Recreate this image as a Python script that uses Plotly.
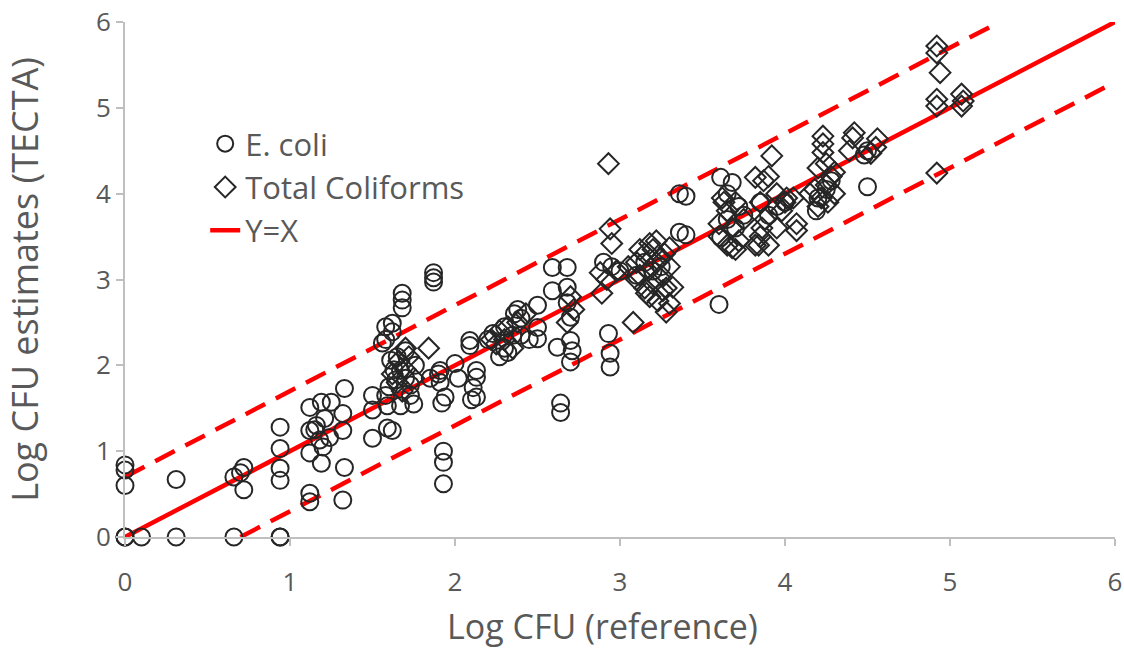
import plotly.graph_objects as go

# ---- data ----
ecoli_x = [0, 0, 0, 0, 0, 0.1, 0.31, 0.31, 0.66, 0.66, 0.7, 0.72, 0.72,
           0.94, 0.94, 0.94, 0.94, 0.94, 0.94,
           1.12, 1.12, 1.12, 1.12, 1.12, 1.19, 1.21, 1.18, 1.2, 1.19, 1.25, 1.24, 1.15, 1.16,
           1.33, 1.32, 1.32, 1.33, 1.32, 1.5, 1.5, 1.5, 1.59, 1.59, 1.62,
           1.58, 1.58, 1.62, 1.62, 1.68, 1.68, 1.68,
           1.56, 1.61, 1.67, 1.64, 1.73, 1.58, 1.67, 1.73, 1.7, 1.76, 1.6, 1.65, 1.7, 1.63, 1.75,
           1.87, 1.87, 1.87, 1.91, 1.91, 1.94, 1.92, 1.85, 1.9, 1.93, 1.93, 1.93,
           2.0, 2.02, 2.09, 2.09, 2.13, 2.13, 2.11, 2.13, 2.1,
           2.23, 2.2, 2.3, 2.35, 2.3, 2.27, 2.32, 2.4, 2.36, 2.38, 2.4, 2.45,
           2.5, 2.5, 2.5, 2.59, 2.68, 2.59, 2.68, 2.68, 2.7, 2.7, 2.62, 2.71, 2.7,
           2.64, 2.64, 2.93, 2.94, 2.94,
           2.9, 2.95, 3.0, 3.1, 3.15, 3.2, 3.25,
           3.36, 3.4, 3.36, 3.4, 3.6,
           3.61, 3.68, 3.65, 3.61, 3.65, 3.7, 3.72, 3.75,
           3.85, 3.9, 3.95, 4.0, 4.19, 4.2, 4.25, 4.28, 4.5, 4.5, 4.48]
ecoli_y = [0, 0, 0.84, 0.78, 0.6, 0, 0, 0.67, 0, 0.7, 0.75, 0.81, 0.55,
           0, 0, 1.28, 1.03, 0.8, 0.66,
           1.51, 1.24, 0.98, 0.51, 0.41, 1.57, 1.38, 1.13, 1.05, 0.86, 1.57, 1.16, 1.25, 1.3,
           1.73, 1.44, 1.24, 0.81, 0.43, 1.65, 1.48, 1.15, 1.53, 1.27, 1.24,
           2.45, 2.3, 2.49, 2.39, 2.84, 2.76, 2.67,
           2.26, 2.06, 1.94, 1.83, 1.77, 1.65, 1.53, 1.65, 2.17, 2.0, 1.75, 2.1, 1.85, 1.95, 1.55,
           3.08, 3.02, 2.97, 1.94, 1.8, 1.63, 1.56, 1.85, 1.9, 1.0, 0.87, 0.62,
           2.02, 1.85, 2.29, 2.23, 1.94, 1.86, 1.74, 1.63, 1.6,
           2.37, 2.3, 2.45, 2.35, 2.2, 2.1, 2.15, 2.55, 2.6, 2.65, 2.35, 2.3,
           2.7, 2.44, 2.31, 3.14, 3.14, 2.87, 2.91, 2.73, 2.56, 2.29, 2.21, 2.17, 2.04,
           1.56, 1.45, 2.37, 2.14, 1.98,
           3.2, 3.15, 3.1, 3.05, 3.2, 3.1, 3.15,
           4.0, 3.97, 3.55, 3.52, 2.71,
           4.19, 4.13, 4.0, 3.49, 3.7, 3.6, 3.85, 3.75,
           3.9, 3.75, 3.85, 3.9, 3.8, 3.95, 4.05, 4.15, 4.08, 4.5, 4.45]

tc_x = [1.65, 1.7, 1.72, 1.68, 1.75, 1.62, 1.7, 1.66, 1.84,
        2.22, 2.27, 2.32, 2.38, 2.3, 2.35, 2.43, 2.25,
        2.7, 2.72, 2.68,
        2.93, 2.94, 2.95, 2.88, 2.89, 2.92, 2.98, 3.08,
        3.05, 3.1, 3.12, 3.15, 3.17, 3.2, 3.2, 3.22, 3.25, 3.27, 3.15, 3.1, 3.18, 3.23,
        3.28, 3.3, 3.12, 3.25, 3.28, 3.3, 3.22, 3.18, 3.3, 3.16, 3.26, 3.32,
        3.6, 3.62, 3.65, 3.65, 3.68, 3.7, 3.72, 3.75, 3.7, 3.6, 3.63, 3.68,
        3.82, 3.85, 3.85, 3.88, 3.9, 3.92, 3.95, 3.95, 3.9, 3.98, 3.82, 3.87, 4.0, 3.86, 3.84,
        4.07, 4.07, 4.05, 4.01,
        4.23, 4.23, 4.23, 4.2, 4.25, 4.28, 4.3, 4.22, 4.18, 4.26, 4.3, 4.2, 4.15, 4.25,
        4.42, 4.41, 4.39, 4.56, 4.55, 4.52,
        4.92, 4.92, 4.94, 4.92, 4.92, 4.92, 5.07, 5.08, 5.07]
tc_y = [1.8, 1.95, 2.1, 1.7, 1.85, 1.9, 2.2, 2.05, 2.2,
        2.3, 2.4, 2.45, 2.5, 2.3, 2.2, 2.6, 2.25,
        2.8, 2.65, 2.5,
        4.35, 3.59, 3.42, 3.08, 2.84, 3.0, 3.1, 2.5,
        3.15, 3.2, 3.05, 3.3, 3.1, 3.35, 2.95, 3.2, 3.05, 3.3, 2.9, 3.0, 2.8, 2.75,
        2.9, 3.15, 3.35, 3.25, 2.62, 2.72, 3.45, 3.42, 3.37, 2.84, 2.87, 2.91,
        3.5, 3.95, 3.8, 3.4, 3.6, 3.9, 3.45, 3.7, 3.35, 3.65, 3.9, 3.37,
        4.19, 3.9, 3.5, 3.7, 4.2, 4.44, 4.0, 3.6, 3.4, 3.8, 3.4, 4.15, 3.9, 3.6, 3.4,
        3.65, 3.57, 3.95, 3.95,
        4.67, 4.58, 4.48, 4.3, 4.1, 4.2, 4.0, 3.95, 4.05, 3.9, 4.25, 3.85, 4.0, 4.35,
        4.71, 4.65, 4.5, 4.64, 4.54, 4.47,
        5.72, 5.64, 5.41, 5.1, 5.02, 4.24, 5.16, 5.08, 5.02]

ref_x = [0, 6]
band = 0.7
upper_x = [0, 6 - band]
lower_x = [band, 6]

FONT = "'Open Sans', Lato, sans-serif"
GRAY = "#595959"
MK = "#262626"
RED = "#ff0000"

fig = go.Figure()
fig.add_trace(go.Scatter(x=upper_x, y=[v + band for v in upper_x], mode="lines",
                         line=dict(color=RED, width=4.5, dash="22px,12px"),
                         showlegend=False, hoverinfo="skip", cliponaxis=False))
fig.add_trace(go.Scatter(x=lower_x, y=[v - band for v in lower_x], mode="lines",
                         line=dict(color=RED, width=4.5, dash="22px,12px"),
                         showlegend=False, hoverinfo="skip", cliponaxis=False))
fig.add_trace(go.Scatter(x=ref_x, y=ref_x, mode="lines", name="Y=X",
                         line=dict(color=RED, width=4.5), legendgroup="c",
                         legendrank=3, cliponaxis=False))
fig.add_trace(go.Scatter(x=ecoli_x, y=ecoli_y, mode="markers", name="E. coli",
                         marker=dict(symbol="circle-open", size=17, color=MK,
                                     line=dict(width=2, color=MK)),
                         legendgroup="a", legendrank=1, cliponaxis=False))
fig.add_trace(go.Scatter(x=tc_x, y=tc_y, mode="markers", name="Total Coliforms",
                         marker=dict(symbol="diamond-open", size=16, color=MK,
                                     line=dict(width=2, color=MK)),
                         legendgroup="b", legendrank=2, cliponaxis=False))

axis_common = dict(range=[0, 6], dtick=1, tick0=0, showgrid=False, zeroline=False,
                   showline=True, linecolor="#bfbfbf", linewidth=2, automargin=False,
                   ticks="outside", tickcolor="#bfbfbf", tickwidth=2, ticklen=7,
                   ticklabeloverflow="allow",
                   tickfont=dict(family=FONT, size=26, color=GRAY))

fig.update_layout(
    width=1124, height=650,
    margin=dict(l=125, r=9, t=22, b=113),
    plot_bgcolor="white", paper_bgcolor="white",
    font=dict(family=FONT, color=GRAY),
    xaxis=dict(**axis_common, ticklabelstandoff=14),
    yaxis=dict(**axis_common, ticklabelstandoff=0,
               title=dict(text="Log CFU estimates (TECTA)", font=dict(family=FONT, size=36, color=GRAY),
                          standoff=50)),
    legend=dict(x=0.081, y=0.8155, xanchor="left", yanchor="top",
                font=dict(family=FONT, size=31, color=GRAY),
                bgcolor="rgba(0,0,0,0)", traceorder="grouped", tracegroupgap=0),
    annotations=[dict(text="Log CFU (reference)", xref="paper", yref="paper",
                      x=0.482, y=-0.1728, xanchor="center", yanchor="middle",
                      showarrow=False, font=dict(family=FONT, size=34, color=GRAY))],
    showlegend=True,
)

# remove the browser's default 8px body margin so the figure fills the window exactly
fig.write_html("out.html", config={"displayModeBar": False},
               post_script="document.body.style.margin='0';")
